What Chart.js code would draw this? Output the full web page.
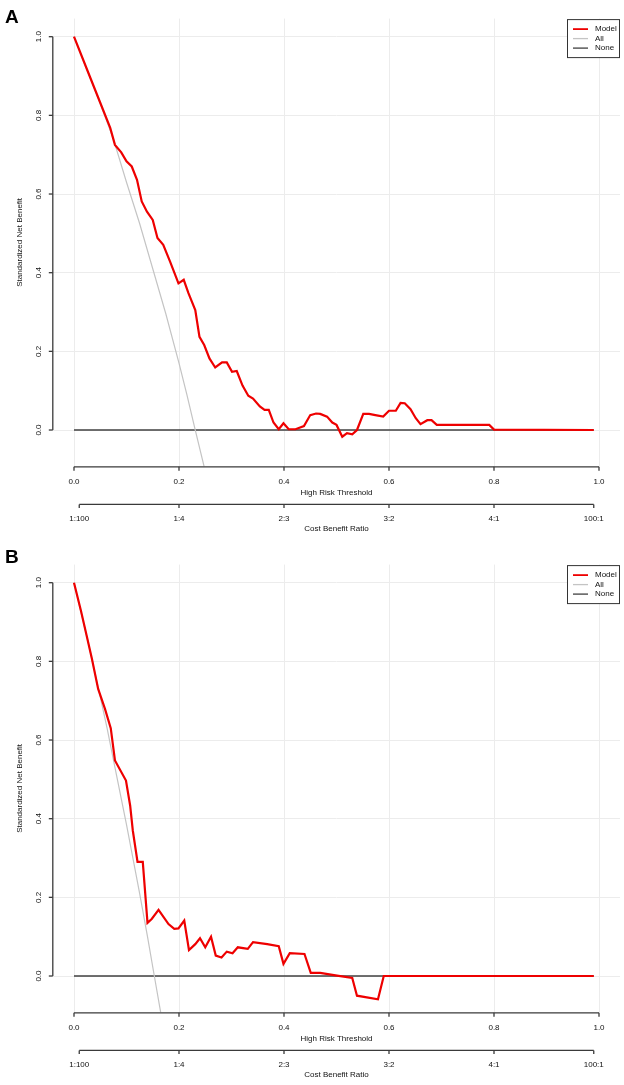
<!DOCTYPE html>
<html><head><meta charset="utf-8">
<script src="https://cdn.jsdelivr.net/npm/chart.js@4/dist/chart.umd.min.js"></script>
<style>
html,body{margin:0;padding:0;background:#fff;}
#wrap{position:relative;width:624px;height:1085px;overflow:hidden;background:#fff;}
.panel{position:absolute;left:0;width:624px;}
</style></head><body>
<div id="wrap">
<div class="panel" style="top:0;height:546px"><canvas id="cA"></canvas></div>
<div class="panel" style="top:546px;height:539px"><canvas id="cB"></canvas></div>
</div>
<script>
// ---- tick labels / axis text ----
const thresholdTicks = [0, 0.2, 0.4, 0.6, 0.8, 1.0];
const thresholdLabels = ['0.0', '0.2', '0.4', '0.6', '0.8', '1.0'];
const costTickPos = [0.01, 0.2, 0.4, 0.6, 0.8, 0.99];
const costTickLabels = ['1:100', '1:4', '2:3', '3:2', '4:1', '100:1'];
const benefitTicks = [0, 0.2, 0.4, 0.6, 0.8, 1.0];
const benefitLabels = ['0.0', '0.2', '0.4', '0.6', '0.8', '1.0'];
const seriesNames = ['Model', 'All', 'None'];
const panelLetters = ['A', 'B'];

// ---- Panel A ----
const modelA_x = [0.000,0.025,0.050,0.069,0.078,0.090,0.100,0.110,0.120,0.129,0.139,0.150,0.159,0.170,0.183,0.199,0.209,0.218,0.231,0.239,0.248,0.258,0.269,0.282,0.291,0.301,0.310,0.321,0.332,0.341,0.354,0.363,0.371,0.380,0.390,0.399,0.409,0.422,0.438,0.450,0.461,0.469,0.482,0.492,0.500,0.511,0.520,0.530,0.539,0.551,0.562,0.574,0.589,0.600,0.613,0.622,0.630,0.641,0.651,0.660,0.673,0.681,0.691,0.791,0.800,0.990];
const modelA_y = [1.000,0.916,0.832,0.768,0.725,0.706,0.683,0.670,0.636,0.581,0.555,0.534,0.488,0.471,0.428,0.373,0.382,0.348,0.305,0.237,0.216,0.182,0.159,0.172,0.172,0.148,0.150,0.113,0.087,0.080,0.060,0.051,0.051,0.019,0.002,0.017,0.002,0.002,0.010,0.038,0.042,0.041,0.034,0.019,0.013,-0.017,-0.008,-0.011,0.000,0.041,0.041,0.038,0.034,0.049,0.049,0.069,0.068,0.053,0.030,0.015,0.025,0.025,0.013,0.013,0.001,0.000];
const allA_x = [0.000,0.050,0.075,0.100,0.125,0.150,0.175,0.200,0.215,0.231,0.260];
const allA_y = [1.000,0.830,0.740,0.630,0.525,0.410,0.295,0.170,0.090,0.000,-0.160];
const noneA_x = [0.000,0.990];
const noneA_y = [0.000,0.000];

// ---- Panel B ----
const modelB_x = [0.000,0.013,0.025,0.034,0.046,0.059,0.070,0.078,0.099,0.107,0.112,0.121,0.131,0.140,0.148,0.161,0.180,0.191,0.199,0.210,0.219,0.231,0.240,0.250,0.261,0.270,0.281,0.291,0.302,0.312,0.331,0.341,0.368,0.390,0.399,0.411,0.439,0.451,0.469,0.501,0.530,0.539,0.579,0.590,0.990];
const modelB_y = [1.000,0.930,0.860,0.807,0.730,0.679,0.630,0.548,0.497,0.433,0.370,0.290,0.290,0.135,0.145,0.168,0.132,0.120,0.121,0.141,0.066,0.081,0.096,0.073,0.100,0.052,0.047,0.062,0.058,0.073,0.069,0.086,0.081,0.076,0.031,0.058,0.056,0.008,0.008,0.001,-0.005,-0.050,-0.059,0.000,0.000];
const allB_x = [0.000,0.025,0.050,0.063,0.075,0.100,0.125,0.140,0.153,0.170];
const allB_y = [1.000,0.860,0.710,0.630,0.550,0.385,0.210,0.100,0.000,-0.130];
const noneB_x = [0.000,0.990];
const noneB_y = [0.000,0.000];

const seriesColors = ['#ee0000', '#c4c4c4', '#404040'];
const seriesWidths = [2.2, 1.2, 1.4];

const FONT = '"Liberation Sans", Arial, Helvetica, sans-serif';
function pts(xs, ys) { return xs.map((x, i) => ({ x: x, y: ys[i] })); }

const rAxes = {
  id: 'rAxes',
  afterDraw(chart, args, opts) {
    const ctx = chart.ctx, xs = chart.scales.x, ys = chart.scales.y, ca = chart.chartArea;
    const line = (x1, y1, x2, y2) => { ctx.beginPath(); ctx.moveTo(x1, y1); ctx.lineTo(x2, y2); ctx.stroke(); };
    ctx.save();
    ctx.strokeStyle = '#3a3a3a'; ctx.lineWidth = 1.3; ctx.fillStyle = '#111';
    ctx.font = '8px ' + FONT; ctx.textAlign = 'center'; ctx.textBaseline = 'middle';
    // threshold axis
    const yA = ca.bottom + 0.6;
    line(xs.getPixelForValue(thresholdTicks[0]), yA, xs.getPixelForValue(thresholdTicks[thresholdTicks.length - 1]), yA);
    thresholdTicks.forEach((v, i) => {
      const p = xs.getPixelForValue(v);
      line(p, yA, p, yA + 4);
      ctx.fillText(thresholdLabels[i], p, yA + 14.5);
    });
    ctx.fillText('High Risk Threshold', xs.getPixelForValue(0.5), yA + 25.5);
    // cost benefit axis
    const yC = ca.bottom + 38.2;
    line(xs.getPixelForValue(costTickPos[0]), yC, xs.getPixelForValue(costTickPos[costTickPos.length - 1]), yC);
    costTickPos.forEach((v, i) => {
      const p = xs.getPixelForValue(v);
      line(p, yC, p, yC + 3.6);
      ctx.fillText(costTickLabels[i], p, yC + 14);
    });
    ctx.fillText('Cost Benefit Ratio', xs.getPixelForValue(0.5), yC + 24);
    // y axis
    const xA = ca.left - 0.2;
    line(xA, ys.getPixelForValue(benefitTicks[0]), xA, ys.getPixelForValue(benefitTicks[benefitTicks.length - 1]));
    benefitTicks.forEach((v, i) => {
      const p = ys.getPixelForValue(v);
      line(xA, p, xA - 4, p);
      ctx.save(); ctx.translate(xA - 14, p); ctx.rotate(-Math.PI / 2);
      ctx.fillText(benefitLabels[i], 0, 0); ctx.restore();
    });
    ctx.save(); ctx.translate(20, (ca.top + ca.bottom) / 2); ctx.rotate(-Math.PI / 2);
    ctx.fillText('Standardized Net Benefit', 0, 0); ctx.restore();
    // legend box (top-right of plot region)
    const bx = ca.right - 53, by = ca.top + 0.5, bw = 52, bh = 38;
    ctx.fillStyle = '#ffffff'; ctx.fillRect(bx, by, bw, bh);
    ctx.strokeStyle = '#333'; ctx.lineWidth = 1; ctx.strokeRect(bx + 0.5, by + 0.5, bw, bh);
    seriesNames.forEach((n, i) => {
      const yy = by + 10 + i * 9.5;
      ctx.strokeStyle = seriesColors[i]; ctx.lineWidth = seriesWidths[i] > 1.5 ? 1.8 : 1.3;
      line(bx + 6, yy, bx + 21, yy);
      ctx.fillStyle = '#111'; ctx.textAlign = 'left';
      ctx.fillText(n, bx + 28, yy);
    });
    // panel letter
    ctx.fillStyle = '#000'; ctx.textAlign = 'left'; ctx.textBaseline = 'alphabetic';
    ctx.font = 'bold 19px ' + FONT;
    ctx.fillText(opts.letter, 5, opts.letterBase);
    ctx.restore();
  }
};

function makeChart(id, letter, letterBase, model, all, none, bottomPad) {
  return new Chart(document.getElementById(id), {
    type: 'line',
    data: {
      datasets: [model, all, none].map((d, i) => ({
        label: seriesNames[i], data: d, borderColor: seriesColors[i], borderWidth: seriesWidths[i],
        pointRadius: 0, tension: 0, fill: false
      }))
    },
    options: {
      responsive: true, maintainAspectRatio: false, animation: false,
      layout: { padding: { left: 53, top: 18.6, right: 4, bottom: bottomPad } },
      plugins: { legend: { display: false }, tooltip: { enabled: false }, rAxes: { letter: letter, letterBase: letterBase } },
      scales: {
        x: {
          type: 'linear', min: -0.04, max: 1.04,
          afterBuildTicks: s => { s.ticks = thresholdTicks.map(v => ({ value: v })); },
          grid: { color: '#ececec', lineWidth: 1, drawTicks: false },
          border: { display: false }, ticks: { display: false }
        },
        y: {
          type: 'linear', min: -0.092, max: 1.046,
          afterBuildTicks: s => { s.ticks = benefitTicks.map(v => ({ value: v })); },
          grid: { color: '#ececec', lineWidth: 1, drawTicks: false },
          border: { display: false }, ticks: { display: false }
        }
      }
    },
    plugins: [rAxes]
  });
}

makeChart('cA', panelLetters[0], 23, pts(modelA_x, modelA_y), pts(allA_x, allA_y), pts(noneA_x, noneA_y), 546 - 466.2);
makeChart('cB', panelLetters[1], 17, pts(modelB_x, modelB_y), pts(allB_x, allB_y), pts(noneB_x, noneB_y), 539 - 466.2);
</script>
</body></html>
